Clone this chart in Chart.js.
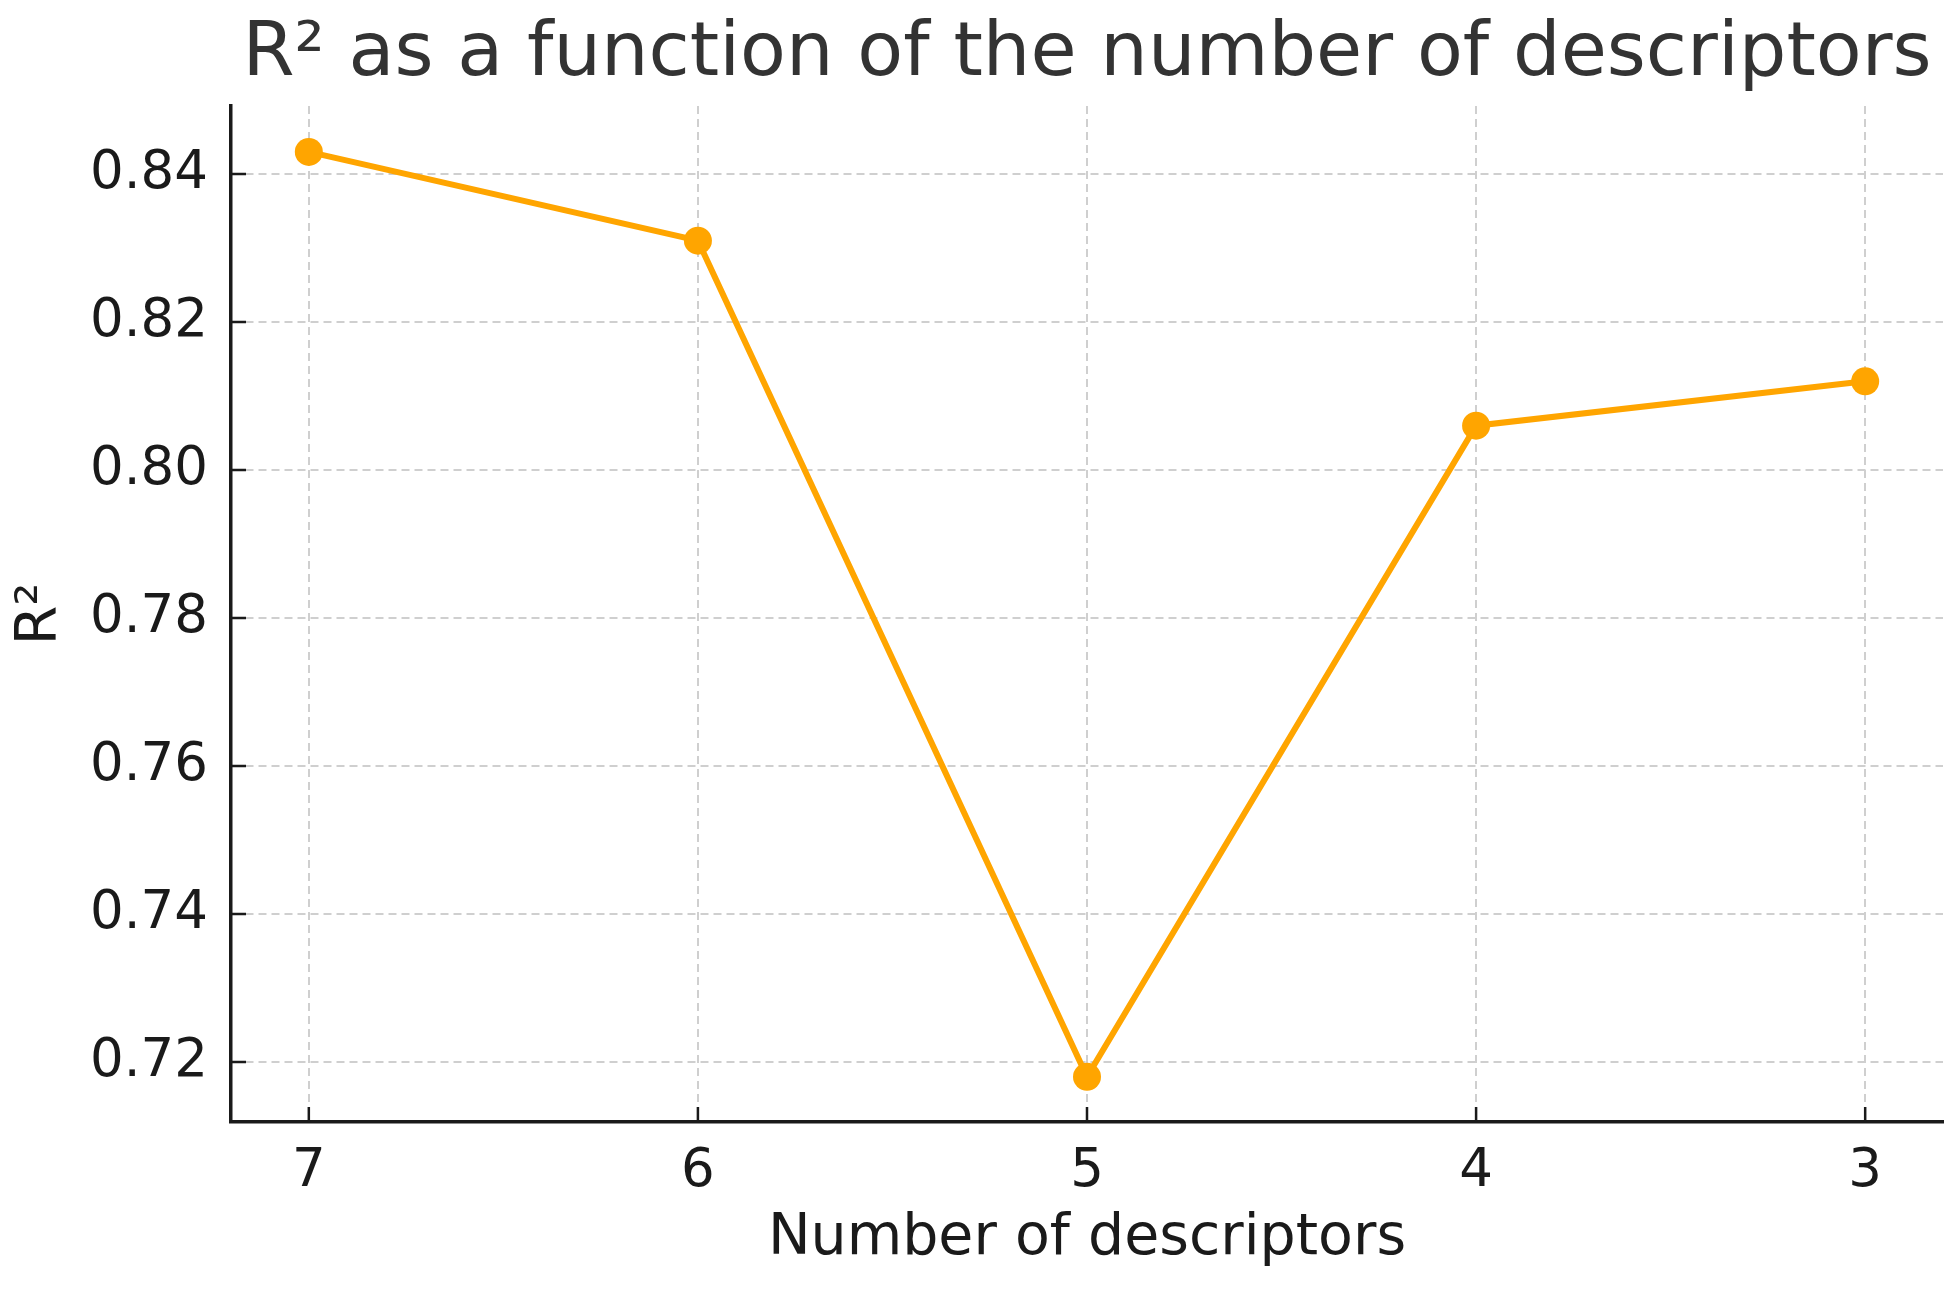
<!DOCTYPE html>
<html>
<head>
<meta charset="utf-8">
<title>R² vs number of descriptors</title>
<script src="https://cdn.jsdelivr.net/npm/chart.js@4.4.1/dist/chart.umd.min.js"></script>
<style>
    html, body { margin: 0; padding: 0; background: #fff; }
    #wrap { width: 1960px; height: 1290px; }
</style>
</head>
<body>
<div id="wrap"><canvas id="r2Chart" width="1960" height="1290"></canvas></div>
<script>
// --- Data ---
const descriptorCounts = [7, 6, 5, 4, 3];
const r2Values = [0.843, 0.831, 0.718, 0.806, 0.812];
const xTickValues = [7, 6, 5, 4, 3];
const yTickValues = [0.72, 0.74, 0.76, 0.78, 0.80, 0.82, 0.84];

const textColor = '#1a1a1a';
const titleColor = '#333333';
const gridColor = '#cfcfcf';
const fontFamily = '"DejaVu Sans", sans-serif';

const points = descriptorCounts.map((n, i) => ({ x: n, y: r2Values[i] }));

// matplotlib-style ticks pointing into the plot area
const innerTicks = {
    id: 'innerTicks',
    afterDatasetsDraw(chart) {
        const { ctx, chartArea, scales } = chart;
        const len = 15;
        ctx.save();
        ctx.strokeStyle = textColor;
        ctx.lineWidth = 2.5;
        ctx.beginPath();
        xTickValues.forEach(v => {
            const px = scales.x.getPixelForValue(v);
            ctx.moveTo(px, chartArea.bottom);
            ctx.lineTo(px, chartArea.bottom - len);
        });
        yTickValues.forEach(v => {
            const py = scales.y.getPixelForValue(v);
            ctx.moveTo(chartArea.left, py);
            ctx.lineTo(chartArea.left + len, py);
        });
        ctx.stroke();
        ctx.restore();
    }
};

const ctx = document.getElementById('r2Chart');
new Chart(ctx, {
    type: 'line',
    data: {
        datasets: [{
            label: 'R²',
            data: points,
            borderColor: '#FFA500',
            backgroundColor: '#FFA500',
            borderWidth: 6,
            pointRadius: 14,
            pointBorderWidth: 0,
            pointBackgroundColor: '#FFA500',
            tension: 0,
            fill: false
        }]
    },
    options: {
        responsive: false,
        animation: false,
        layout: { padding: { left: 0, right: 17, top: 0, bottom: 0 } },
        plugins: {
            legend: { display: false },
            tooltip: { enabled: false },
            title: {
                display: true,
                text: 'R² as a function of the number of descriptors',
                fullSize: false,
                color: titleColor,
                font: { family: fontFamily, size: 75, weight: 'normal' },
                padding: { top: 11, bottom: 5 }
            }
        },
        scales: {
            x: {
                type: 'linear',
                reverse: true,
                min: 2.8,
                max: 7.2,
                afterBuildTicks: scale => { scale.ticks = xTickValues.map(v => ({ value: v })); },
                afterFit: scale => { scale.height = 168; },
                grid: {
                    color: gridColor,
                    lineWidth: 2,
                    drawTicks: false
                },
                border: { display: true, color: textColor, width: 3.5, dash: [8, 5] },
                ticks: {
                    color: textColor,
                    padding: 18,
                    font: { family: fontFamily, size: 53 },
                    maxRotation: 0
                },
                title: {
                    display: true,
                    text: 'Number of descriptors',
                    color: textColor,
                    font: { family: fontFamily, size: 57 },
                    padding: { top: 0, bottom: 17 }
                }
            },
            y: {
                min: 0.7119,
                max: 0.8492,
                afterBuildTicks: scale => { scale.ticks = yTickValues.map(v => ({ value: v })); },
                afterFit: scale => { scale.width = 231; },
                grid: {
                    color: gridColor,
                    lineWidth: 2,
                    drawTicks: false
                },
                border: { display: true, color: textColor, width: 3.5, dash: [8, 5] },
                ticks: {
                    color: textColor,
                    padding: 23,
                    font: { family: fontFamily, size: 53 },
                    callback: v => v.toFixed(2)
                },
                title: {
                    display: true,
                    text: 'R²',
                    color: textColor,
                    font: { family: fontFamily, size: 57 },
                    padding: { top: 7, bottom: 0 }
                }
            }
        }
    },
    plugins: [innerTicks]
});
</script>
</body>
</html>
